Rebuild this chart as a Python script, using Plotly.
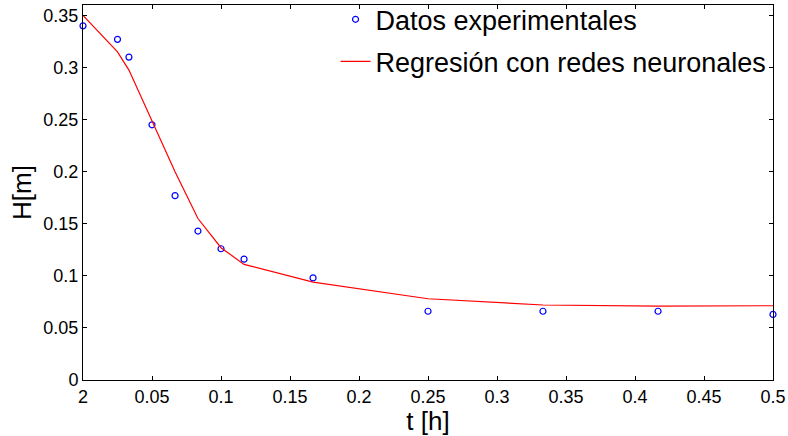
import plotly.graph_objects as go

# Experimental data
t_exp = [0.0, 0.025, 0.0333, 0.05, 0.0667, 0.0833, 0.1, 0.1167, 0.1667, 0.25, 0.3333, 0.4167, 0.5]
h_exp = [0.340, 0.327, 0.310, 0.245, 0.177, 0.143, 0.126, 0.116, 0.098, 0.066, 0.066, 0.066, 0.063]

# Neural network regression
t_reg = [0.0, 0.025, 0.0333, 0.05, 0.0667, 0.0833, 0.1, 0.1167, 0.1667, 0.25, 0.3333, 0.4167, 0.5]
h_reg = [0.350, 0.315, 0.2975, 0.248, 0.200, 0.155, 0.127, 0.111, 0.094, 0.078, 0.072, 0.071, 0.0713]

x_tickvals = [0, 0.05, 0.1, 0.15, 0.2, 0.25, 0.3, 0.35, 0.4, 0.45, 0.5]
x_ticktext = ["2", "0.05", "0.1", "0.15", "0.2", "0.25", "0.3", "0.35", "0.4", "0.45", "0.5"]
y_tickvals = [0, 0.05, 0.1, 0.15, 0.2, 0.25, 0.3, 0.35]
y_ticktext = ["0", "0.05", "0.1", "0.15", "0.2", "0.25", "0.3", "0.35"]

FONT = "Liberation Sans, Arial, sans-serif"

fig = go.Figure()
fig.add_trace(go.Scatter(
    x=t_exp, y=h_exp, mode="markers", name="Datos experimentales",
    marker=dict(symbol="circle-open", size=6, color="#0000ff", line=dict(width=1.2, color="#0000ff")),
    legendgroup="a", cliponaxis=False,
))
fig.add_trace(go.Scatter(
    x=t_reg, y=h_reg, mode="lines", name="Regresión con redes neuronales",
    line=dict(color="#ff0000", width=1.2),
    legendgroup="b",
))

axis_common = dict(
    showgrid=False, zeroline=False, showline=True, linecolor="black", linewidth=1,
    mirror="ticks", ticks="inside", ticklen=4, tickcolor="black",
    tickfont=dict(family=FONT, size=18, color="black"),
)

fig.update_layout(
    width=788, height=436,
    margin=dict(l=83, r=15, t=5, b=56, autoexpand=False),
    paper_bgcolor="white", plot_bgcolor="white",
    font=dict(family=FONT, color="black"),
    xaxis=dict(range=[0, 0.5], tickvals=x_tickvals, ticktext=x_ticktext,
               title=dict(text="t [h]", font=dict(family=FONT, size=26), standoff=0),
               **axis_common),
    yaxis=dict(range=[0, 0.36], tickvals=y_tickvals, ticktext=y_ticktext,
               title=dict(text="H[m]", font=dict(family=FONT, size=26), standoff=4),
               **axis_common),
    legend=dict(x=0.366, y=1.026, xanchor="left", yanchor="top",
                font=dict(family=FONT, size=27, color="black"),
                bgcolor="rgba(0,0,0,0)", borderwidth=0,
                traceorder="grouped", tracegroupgap=4),
    showlegend=True,
)

fig.write_html("out.html")
